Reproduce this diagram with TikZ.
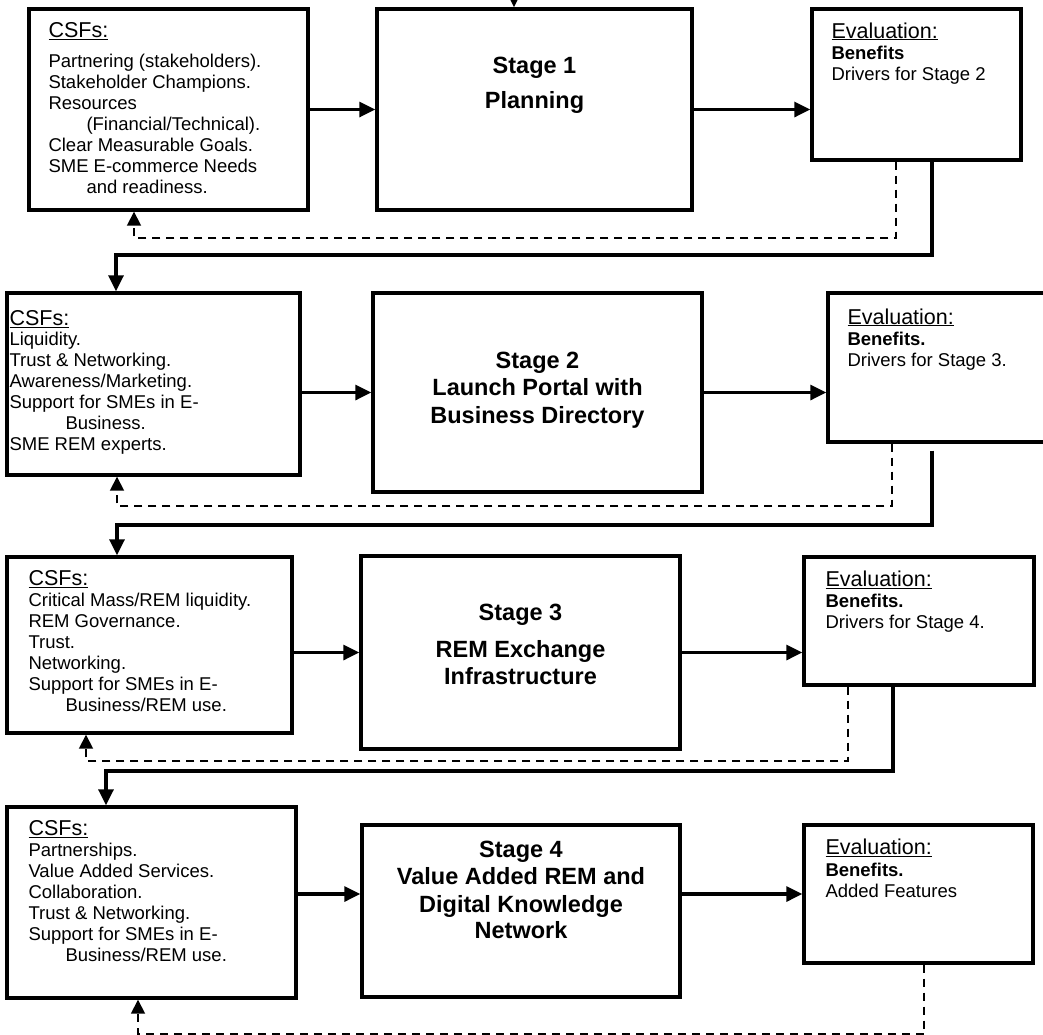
\documentclass[tikz,border=0pt]{standalone}
\usepackage{fontspec}
\setmainfont{Liberation Sans}
\usetikzlibrary{positioning, arrows.meta}

\newcommand{\boxhead}[1]{{\fontsize{21.5}{21}\selectfont\underline{#1}}}

\begin{document}
\begin{tikzpicture}[x=1pt, y=-1pt,
        box/.style={draw, line width=3.4pt, inner sep=0pt},
        csftext/.style={align=left, inner sep=0pt, font=\fontsize{18.5}{21}\selectfont},
        stagetext/.style={align=center, inner sep=0pt, font=\bfseries\fontsize{23.5}{28}\selectfont},
        flow/.style={line width=3.2pt, -{Triangle[length=16pt,width=15pt]}},
        back/.style={line width=1.8pt, dash pattern=on 8pt off 6pt, -{Triangle[length=14pt,width=14pt]}}]
    \useasboundingbox (0,0) rectangle (1043,1034);

    % boxes
    \node[box, minimum width=279pt, minimum height=201pt] (csf1) at (168.5,109.5) {};
    \node[box, minimum width=315pt, minimum height=201pt] (st1) at (534.5,109.5) {};
    \node[box, minimum width=209pt, minimum height=151pt] (ev1) at (916.5,84.5) {};
    \node[box, minimum width=293pt, minimum height=182pt] (csf2) at (153.5,384) {};
    \node[box, minimum width=329pt, minimum height=199pt] (st2) at (537.5,392.5) {};
    \node[box, minimum width=220pt, minimum height=149pt] (ev2) at (938,367.5) {};
    \node[box, minimum width=285pt, minimum height=176pt] (csf3) at (149.5,645) {};
    \node[box, minimum width=319pt, minimum height=193pt] (st3) at (520.5,652.5) {};
    \node[box, minimum width=230pt, minimum height=128pt] (ev3) at (919,621) {};
    \node[box, minimum width=289pt, minimum height=191pt] (csf4) at (151.5,902.5) {};
    \node[box, minimum width=318pt, minimum height=172pt] (st4) at (521,911) {};
    \node[box, minimum width=229pt, minimum height=138pt] (ev4) at (918.5,894) {};

    % texts
    \node[csftext, below right=15.3pt and 21pt of csf1.north west] (csf1t) {\boxhead{CSFs:}\\[9pt]
        Partnering (stakeholders).\\
        Stakeholder Champions.\\
        Resources\\
        \hspace*{38pt}(Financial/Technical).\\
        Clear Measurable Goals.\\
        SME E-commerce Needs\\
        \hspace*{38pt}and readiness.};
    \node[csftext, below right=19.3pt and 4pt of csf2.north west] (csf2t) {\boxhead{CSFs:}\\[-1pt]
        Liquidity.\\
        Trust \& Networking.\\
        Awareness/Marketing.\\
        Support for SMEs in E-\\
        \hspace*{56pt}Business.\\
        SME REM experts.};
    \node[csftext, below right=15pt and 23pt of csf3.north west] (csf3t) {\boxhead{CSFs:}\\
        Critical Mass/REM liquidity.\\
        REM Governance.\\
        Trust.\\
        Networking.\\
        Support for SMEs in E-\\
        \hspace*{37pt}Business/REM use.};
    \node[csftext, below right=15pt and 23pt of csf4.north west] (csf4t) {\boxhead{CSFs:}\\
        Partnerships.\\
        Value Added Services.\\
        Collaboration.\\
        Trust \& Networking.\\
        Support for SMEs in E-\\
        \hspace*{37pt}Business/REM use.};

    \node[stagetext, below=49.4pt of st1.north] (st1t) {Stage 1\\[7pt] Planning};
    \node[stagetext, below=60.4pt of st2.north] (st2t) {Stage 2\\[-1pt] Launch Portal with\\ Business Directory};
    \node[stagetext, below=49.4pt of st3.north] (st3t) {Stage 3\\[9pt] REM Exchange\\[-1pt] Infrastructure};
    \node[stagetext, below=17.4pt of st4.north] (st4t) {Stage 4\\[-1pt] Value Added REM and\\ Digital Knowledge\\[-2pt] Network};

    \node[csftext, below right=15pt and 21pt of ev1.north west] (ev1t) {\boxhead{Evaluation:}\\
        \textbf{Benefits}\\ Drivers for Stage 2};
    \node[csftext, below right=17pt and 21pt of ev2.north west] (ev2t) {\boxhead{Evaluation:}\\
        \textbf{Benefits.}\\ Drivers for Stage 3.};
    \node[csftext, below right=15pt and 23pt of ev3.north west] (ev3t) {\boxhead{Evaluation:}\\
        \textbf{Benefits.}\\ Drivers for Stage 4.};
    \node[csftext, below right=15pt and 23pt of ev4.north west] (ev4t) {\boxhead{Evaluation:}\\[1pt]
        \textbf{Benefits.}\\ Added Features};

    % main flow
    \coordinate (entry) at (514,-7);
    \draw[flow] (entry) -- (entry |- st1.north);
    \draw[flow] (csf1.east) -- (st1.west);
    \draw[flow] (st1.east) -- (st1.east -| ev1.west);
    \draw[flow] (st2.west -| csf2.east) -- (st2.west);
    \draw[flow] (st2.east) -- (st2.east -| ev2.west);
    \draw[flow] (st3.west -| csf3.east) -- (st3.west);
    \draw[flow] (st3.east) -- (st3.east -| ev3.west);
    \draw[flow] (ev4.west -| csf4.east) -- (ev4.west -| st4.west);
    \draw[flow] (ev4.west -| st4.east) -- (ev4.west);

    % feedback and next stage
    \coordinate (b1r) at (896,238);  \coordinate (b1l) at (134,238);
    \coordinate (n1r) at (932,255);  \coordinate (n1l) at (116,255);
    \draw[back] (ev1.south -| b1r) -- (b1r) -- (b1l) -- (b1l |- csf1.south);
    \draw[flow] (ev1.south -| n1r) -- (n1r) -- (n1l) -- (n1l |- csf2.north);

    \coordinate (b2r) at (892,506);  \coordinate (b2l) at (117,506);
    \coordinate (n2r) at (932,525);  \coordinate (n2l) at (117,525);
    \draw[back] (ev2.south -| b2r) -- (b2r) -- (b2l) -- (b2l |- csf2.south);
    \draw[flow, shorten <=7pt] (ev2.south -| n2r) -- (n2r) -- (n2l) -- (n2l |- csf3.north);

    \coordinate (b3r) at (848,761);  \coordinate (b3l) at (86,761);
    \coordinate (n3r) at (893,771);  \coordinate (n3l) at (106,771);
    \draw[back] (ev3.south -| b3r) -- (b3r) -- (b3l) -- (b3l |- csf3.south);
    \draw[flow] (ev3.south -| n3r) -- (n3r) -- (n3l) -- (n3l |- csf4.north);

    \coordinate (b4r) at (924,1034.3); \coordinate (b4l) at (138,1034.3);
    \draw[back] (ev4.south -| b4r) -- (b4r) -- (b4l) -- (b4l |- csf4.south);
\end{tikzpicture}
\end{document}
